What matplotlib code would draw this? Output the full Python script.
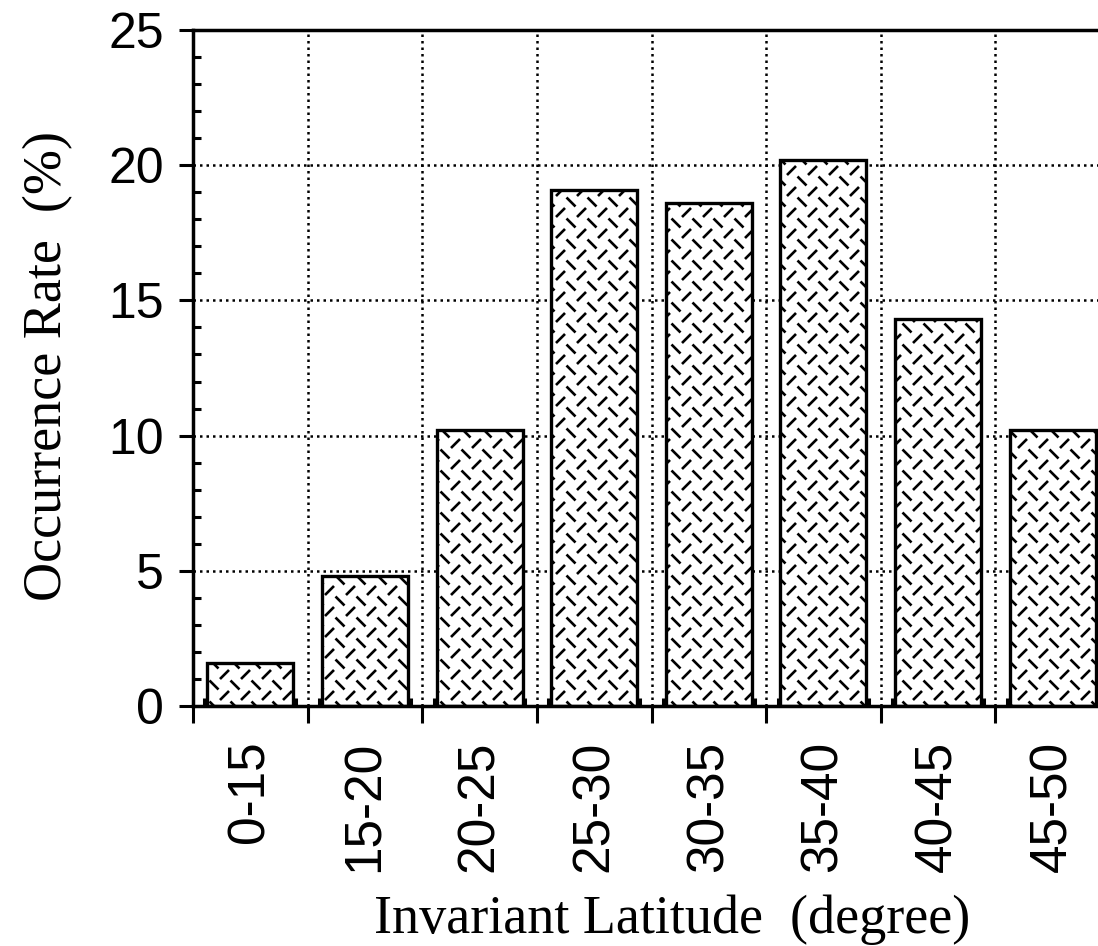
import matplotlib
matplotlib.use('Agg')
import matplotlib.pyplot as plt
import numpy as np
from matplotlib.collections import LineCollection
from matplotlib.ticker import MultipleLocator

# occurrence rate per invariant latitude bin
lat_bins = ['0-15', '15-20', '20-25', '25-30', '30-35', '35-40', '40-45', '45-50']
rates = [1.6, 4.8, 10.2, 19.1, 18.6, 20.2, 14.3, 10.2]
y_ticks = [0, 5, 10, 15, 20, 25]

fig = plt.figure(figsize=(10.98, 9.46), dpi=100)
# axes runs a little past the right edge, like the scanned original
ax = fig.add_axes([193/1098, 240/946, 917/1098, 676/946])

x = np.arange(len(lat_bins))
bars = ax.bar(x, rates, width=0.75, color='white', edgecolor='black',
              linewidth=2.4, zorder=2)

ax.set_xlim(-0.5, len(lat_bins) - 0.5)
ax.set_ylim(0, 25)

# dashed hatch texture: rows of "\" and "/" dashes on a staggered lattice
px_x = 917 / len(lat_bins)
px_y = 676 / 25
sp = 21.0   # lattice spacing, px
hl = 4.5    # dash half length, px
segs = []
for gx in np.arange(0, 940, sp):
    for gy in np.arange(0, 700, sp):
        segs.append([(gx - hl, gy + hl), (gx + hl, gy - hl)])
        cx, cy = gx + sp/2, gy + sp/2
        segs.append([(cx - hl, cy - hl), (cx + hl, cy + hl)])
segs = [[(-0.5 + px / px_x, py / px_y) for px, py in s] for s in segs]
for b in bars:
    lc = LineCollection(segs, colors='black', linewidths=1.9, zorder=2.5)
    ax.add_collection(lc)
    lc.set_clip_path(b)

# grid: dotted lines at bin edges and every 5 %
for xe in x[:-1] + 0.5:
    ax.axvline(xe, color='black', linestyle=(0, (1, 1.6)), lw=1.8, zorder=1)
for yv in y_ticks[1:-1]:
    ax.axhline(yv, color='black', linestyle=(0, (1, 1.6)), lw=1.8, zorder=1)

for s in ax.spines.values():
    s.set_linewidth(2.5)
    s.set_zorder(3)

ax.set_yticks(y_ticks)
ax.yaxis.set_minor_locator(MultipleLocator(1))
ax.tick_params(axis='y', which='major', direction='out', length=10, width=2.2,
               labelsize=36, pad=11)
ax.tick_params(axis='y', which='minor', direction='in', length=6, width=2.2)

ax.set_xticks(np.arange(-0.5, len(lat_bins)), [''] * (len(lat_bins) + 1))
ax.xaxis.set_minor_locator(MultipleLocator(0.2))
ax.tick_params(axis='x', which='major', direction='out', length=12, width=2.2)
ax.tick_params(axis='x', which='minor', direction='in', length=6, width=2.2)
for lab in ax.get_yticklabels():
    lab.set_fontfamily('Liberation Sans')

sec = ax.secondary_xaxis('bottom')
sec.set_xticks(x, lat_bins, rotation=90, fontsize=37, fontfamily='Liberation Sans')
sec.tick_params(length=0, pad=25)
sec.spines['bottom'].set_visible(False)
sec.xaxis.set_minor_locator(plt.NullLocator())

fig.text(0.044, 1 - 366/946, 'Occurrence Rate  (%)', rotation=90, fontsize=39,
         family='Liberation Serif', ha='center', va='center')
fig.text(672/1098, 1 - 933/946, 'Invariant Latitude  (degree)', fontsize=39,
         family='Liberation Serif', ha='center', va='baseline')

fig.savefig('out.png', dpi=100)
